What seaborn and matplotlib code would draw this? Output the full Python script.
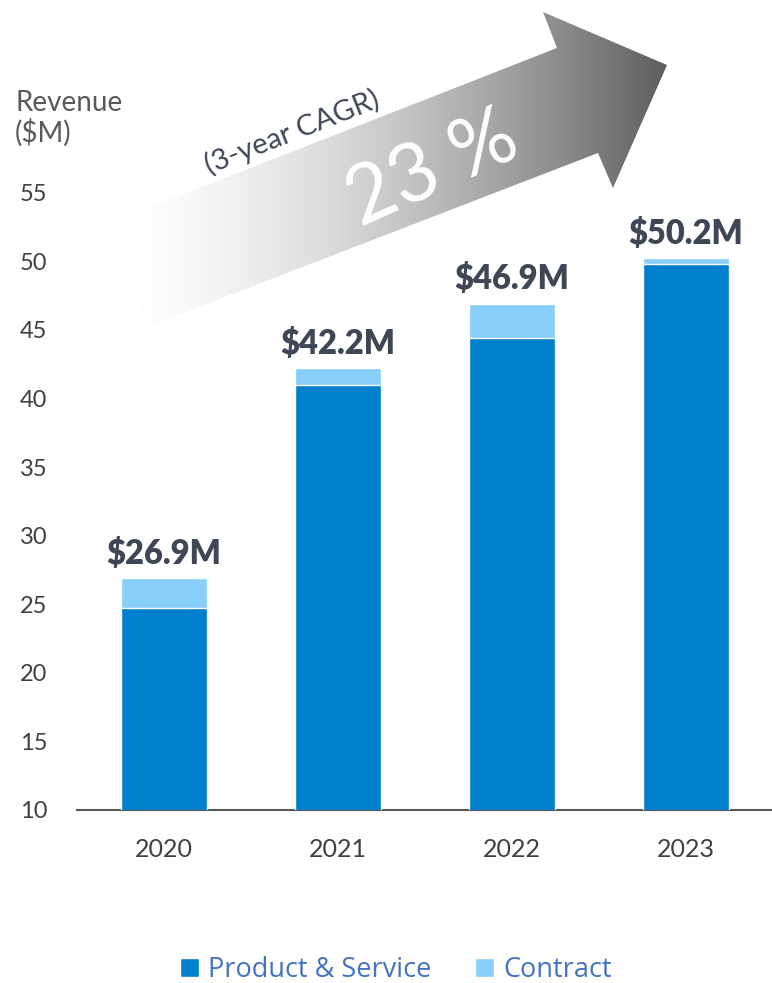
import numpy as np
import pandas as pd
import matplotlib
matplotlib.use("Agg")
import matplotlib.pyplot as plt
import seaborn as sns
from matplotlib.patches import Polygon, Patch
from matplotlib.colors import LinearSegmentedColormap

# ---- data ----
years = ["2020", "2021", "2022", "2023"]
product_service = [24.7, 41.0, 44.4, 49.8]
contract = [2.2, 1.2, 2.5, 0.4]
total_labels = ["$26.9M", "$42.2M", "$46.9M", "$50.2M"]
yticks = [10, 15, 20, 25, 30, 35, 40, 45, 50, 55]
cagr_text = "23 %"
cagr_sub = "(3-year CAGR)"

DARK = "#0080CC"
LIGHT = "#87CEFA"
TXT = "#3F4756"
TICK = "#404040"

sns.set_theme(style="white")
plt.rcParams["font.family"] = ["Lato", "DejaVu Sans"]

W, H = 772, 983
fig = plt.figure(figsize=(W / 100, H / 100), dpi=100)

df = pd.DataFrame({"year": years, "product": product_service, "contract": contract})
df["total"] = df["product"] + df["contract"]

ax = fig.add_axes([77 / W, (H - 810) / H, 696 / W, 810 / H])
ax.patch.set_alpha(0)
sns.barplot(data=df, x="year", y="total", color=LIGHT, width=0.494, ax=ax,
            saturation=1, zorder=2)
sns.barplot(data=df, x="year", y="product", color=DARK, width=0.494, ax=ax,
            saturation=1, zorder=3)
ax.set_xlim(-0.5, 3.5)
ax.set_ylim(10, 10 + 810 / 13.72)
ax.set_yticks(yticks)
ax.set_yticklabels([str(t) for t in yticks])
ax.set_xlabel("")
ax.set_ylabel("")
for s in ["top", "right", "left"]:
    ax.spines[s].set_visible(False)
ax.spines["bottom"].set_color("#595959")
ax.spines["bottom"].set_linewidth(1.5)
ax.tick_params(axis="y", length=0, pad=0, labelsize=17, labelcolor=TICK)
ax.tick_params(axis="x", length=0, pad=20, labelsize=18, labelcolor=TICK)
for lab in ax.get_yticklabels():
    lab.set_horizontalalignment("left")
    lab.set_x(-57 / 696)

for i, (t, lbl) in enumerate(zip(df["total"], total_labels)):
    ax.annotate(lbl, (i, t), xytext=(0, 6), textcoords="offset points",
                ha="center", va="bottom", fontsize=23.5, fontweight="heavy",
                color=TXT, zorder=5)

# y-axis title
fig.text(15 / W, 1 - 90 / H, "Revenue\n($M)", ha="left", va="top",
         fontsize=20, color="#595959", linespacing=1.1)

# ---- gradient arrow overlay (pixel coordinates) ----
ov = fig.add_axes([0, 0, 1, 1], zorder=-1)
ov.set_xlim(0, W)
ov.set_ylim(H, 0)
ov.axis("off")
ov.patch.set_alpha(0)
pts = [(110, 223), (557, 48), (543, 12), (667, 65), (613, 188),
       (598, 153), (147, 327)]
poly = Polygon(pts, closed=True, facecolor="none", edgecolor="none")
ov.add_patch(poly)
xs = np.linspace(0, 1, 400)
g = 1 - 0.64 * xs ** 1.6
grad = np.tile(g, (200, 1))
cmap = LinearSegmentedColormap.from_list("g", ["#000000", "#ffffff"])
im = ov.imshow(grad, extent=(105, 670, 330, 10), cmap=cmap, vmin=0, vmax=1,
               aspect="auto", interpolation="bilinear")
im.set_clip_path(poly)

ov.text(292, 132, cagr_sub, rotation=21.5, rotation_mode="anchor",
        ha="center", va="center", fontsize=21, color=TXT)
ov.text(433, 170, cagr_text, rotation=24, rotation_mode="anchor",
        ha="center", va="center", fontsize=58, color="white")

# ---- legend ----
handles = [Patch(facecolor=DARK, label="Product & Service"),
           Patch(facecolor=LIGHT, label="Contract")]
leg = fig.legend(handles=handles, loc="center", bbox_to_anchor=(396 / W, 1 - 970 / H),
                 ncol=2, frameon=False, handlelength=0.7,
                 handleheight=0.7, handletextpad=0.35, columnspacing=1.6,
                 prop={"family": ["Open Sans", "DejaVu Sans"], "size": 19.5})
for t in leg.get_texts():
    t.set_color("#4472C4")

fig.savefig("out.png", dpi=100)
